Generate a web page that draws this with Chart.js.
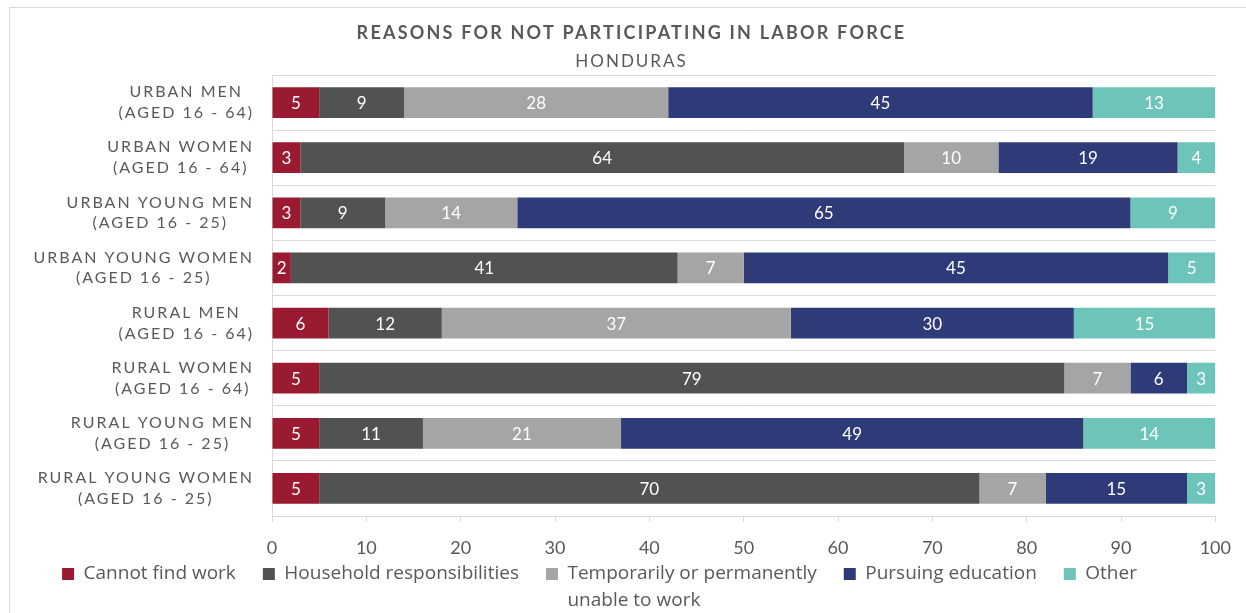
<!DOCTYPE html>
<html>
<head>
<meta charset="utf-8">
<script src="https://cdn.jsdelivr.net/npm/chart.js@4.4.1/dist/chart.umd.min.js"></script>
<style>
  html, body { margin: 0; padding: 0; background: #fff; }
  body { width: 1246px; height: 613px; overflow: hidden; position: relative; }
  .frame { position: absolute; left: 9px; top: 7px; width: 1260px; height: 640px; border: 1px solid #d9d9d9; }
  canvas { position: absolute; left: 0; top: 0; }
</style>
</head>
<body>
<div class="frame"></div>
<canvas id="chart" width="1246" height="613"></canvas>
<script>
const categories = [
  ["URBAN MEN", "(AGED 16 - 64)"],
  ["URBAN WOMEN", "(AGED 16 - 64)"],
  ["URBAN YOUNG MEN", "(AGED 16 - 25)"],
  ["URBAN YOUNG WOMEN", "(AGED 16 - 25)"],
  ["RURAL MEN", "(AGED 16 - 64)"],
  ["RURAL WOMEN", "(AGED 16 - 64)"],
  ["RURAL YOUNG MEN", "(AGED 16 - 25)"],
  ["RURAL YOUNG WOMEN", "(AGED 16 - 25)"],
];

const cannotFindWork = [5, 3, 3, 2, 6, 5, 5, 5];
const household = [9, 64, 9, 41, 12, 79, 11, 70];
const unableToWork = [28, 10, 14, 7, 37, 7, 21, 7];
const education = [45, 19, 65, 45, 30, 6, 49, 15];
const other = [13, 4, 9, 5, 15, 3, 14, 3];

const seriesNames = [
  "Cannot find work",
  "Household responsibilities",
  ["Temporarily or permanently", "unable to work"],
  "Pursuing education",
  "Other",
];

const titleText = "REASONS FOR NOT PARTICIPATING IN LABOR FORCE";
const subtitleText = "HONDURAS";

const colors = {
  red: "#9a1a31",
  dark: "#525252",
  light: "#a5a5a5",
  navy: "#2f3b78",
  teal: "#6cc5b8",
  text: "#595959",
  grid: "#d9d9d9",
};

Chart.defaults.font.family = "Lato";
Chart.defaults.color = colors.text;

// category axis: letter-spaced labels, each line centred inside a right-aligned block
const LABEL_SPACING = 2;
class SpacedCategoryScale extends Chart.CategoryScale {
  _computeLabelItems(chartArea) {
    const items = super._computeLabelItems(chartArea);
    const ctx = this.ctx;
    ctx.save();
    items.forEach((item) => {
      ctx.font = item.font.string;
      ctx.letterSpacing = LABEL_SPACING + "px";
      const lines = Array.isArray(item.label) ? item.label : [item.label];
      const w = Math.max(...lines.map((l) => ctx.measureText(l).width));
      const t = item.options.translation;
      item.options.textAlign = "center";
      item.options.translation = [t[0] - w / 2, t[1]];
    });
    ctx.restore();
    return items;
  }
  drawLabels(chartArea) {
    this.ctx.save();
    this.ctx.letterSpacing = LABEL_SPACING + "px";
    super.drawLabels(chartArea);
    this.ctx.restore();
  }
}
SpacedCategoryScale.id = "spacedCategory";
SpacedCategoryScale.defaults = Chart.CategoryScale.defaults;

// value axis whose tick labels are not clipped to the (thin) axis box
class OpenLinearScale extends Chart.LinearScale {
  _computeLabelArea() {
    return undefined;
  }
}
OpenLinearScale.id = "openLinear";
OpenLinearScale.defaults = Chart.LinearScale.defaults;

Chart.register(SpacedCategoryScale, OpenLinearScale);

// white value labels in the middle of each segment
const barLabels = {
  id: "barLabels",
  afterDatasetsDraw(chart) {
    const ctx = chart.ctx;
    ctx.save();
    ctx.font = "17px Lato";
    ctx.fillStyle = "#fff";
    ctx.textAlign = "center";
    ctx.textBaseline = "middle";
    chart.data.datasets.forEach((ds, i) => {
      chart.getDatasetMeta(i).data.forEach((bar, j) => {
        const p = bar.getCenterPoint();
        ctx.fillText(ds.data[j], p.x, p.y + 1);
      });
    });
    ctx.restore();
  },
};

const ctx = document.getElementById("chart").getContext("2d");

const chart = new Chart(ctx, {
  type: "bar",
  data: {
    labels: categories,
    datasets: [
      { label: seriesNames[0], data: cannotFindWork, backgroundColor: colors.red },
      { label: seriesNames[1], data: household, backgroundColor: colors.dark },
      { label: seriesNames[2], data: unableToWork, backgroundColor: colors.light },
      { label: seriesNames[3], data: education, backgroundColor: colors.navy },
      { label: seriesNames[4], data: other, backgroundColor: colors.teal },
    ],
  },
  plugins: [barLabels],
  options: {
    indexAxis: "y",
    responsive: false,
    animation: false,
    barPercentage: 0.56,
    categoryPercentage: 1,
    layout: {
      padding: { left: 0, right: 27, top: 0, bottom: 35.5 },
    },
    plugins: {
      title: {
        display: true,
        text: titleText,
        color: colors.text,
        font: { size: 18, weight: "bold" },
        padding: { top: 22, bottom: 0 },
      },
      subtitle: {
        display: true,
        text: subtitleText,
        color: colors.text,
        font: { size: 17 },
        padding: { top: 8, bottom: 3 },
      },
      legend: {
        position: "bottom",
        maxHeight: 40,
        labels: {
          boxWidth: 12,
          boxHeight: 12,
          padding: 27,
          color: colors.text,
          font: { family: "Open Sans", size: 19, lineHeight: 1.42 },
          generateLabels(chart) {
            const items = Chart.defaults.plugins.legend.labels.generateLabels(chart);
            items.forEach((it) => {
              if (Array.isArray(it.text)) {
                const longest = it.text.reduce((a, b) => (a.length > b.length ? a : b));
                it.text = it.text.slice();
                it.text.toString = () => longest;
              }
              it.lineWidth = 0;
            });
            return items;
          },
        },
      },
      tooltip: { enabled: false },
    },
    scales: {
      x: {
        type: "openLinear",
        stacked: true,
        min: 0,
        max: 100,
        ticks: { stepSize: 10, padding: 15, font: { size: 18 }, color: colors.text },
        grid: { drawOnChartArea: false, drawTicks: true, tickLength: 6, color: colors.grid },
        border: { color: colors.grid },
        afterFit: (scale) => { scale.height = 21.5; },
      },
      y: {
        type: "spacedCategory",
        stacked: true,
        offset: true,
        ticks: { padding: 18, font: { size: 16, lineHeight: 1.3 }, color: colors.text },
        grid: { offset: true, drawTicks: false, color: colors.grid },
        border: { color: colors.grid },
        afterFit: (scale) => { scale.width = 272; },
      },
    },
  },
});

// letter-spaced title and subtitle (centred over the figure), legend drawn
// without clipping so the two-line item shows
chart.boxes.forEach((box) => {
  const t = box.options && box.options.text;
  if (t === titleText || t === subtitleText) {
    const draw = box.draw.bind(box);
    box.draw = function (area) {
      this.ctx.save();
      this.ctx.translate(22, 0);
      this.ctx.letterSpacing = t === titleText ? "2.2px" : "2px";
      draw(area);
      this.ctx.restore();
    };
  }
  if (box === chart.legend) {
    box.draw = function () {
      this.ctx.save();
      this.ctx.translate(-10, 0);
      this._draw();
      this.ctx.restore();
    };
  }
});
chart.draw();
</script>
</body>
</html>
